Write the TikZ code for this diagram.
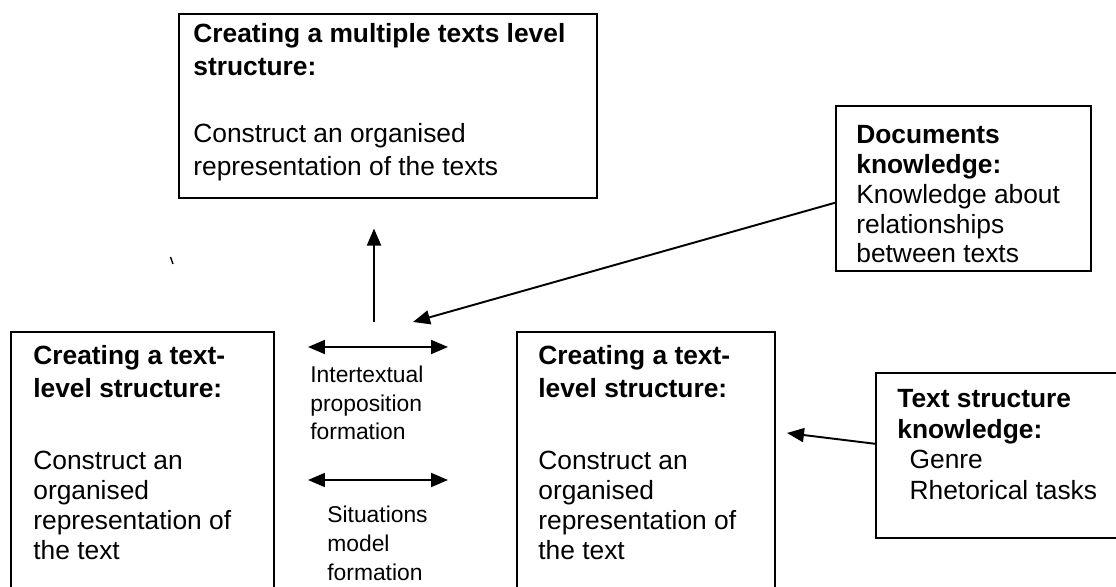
\documentclass[tikz,border=0pt]{standalone}
\usepackage{fontspec}
\setmainfont{Liberation Sans}
\usetikzlibrary{arrows.meta}
\begin{document}
\begin{tikzpicture}[x=0.02cm,y=-0.02cm,
    box/.style={draw,line width=0.9pt,anchor=north west,inner sep=0pt},
    txt/.style={anchor=north west,inner sep=0pt,align=left,font=\fontsize{15}{17}\selectfont},
    small/.style={anchor=north west,inner sep=0pt,align=left,font=\fontsize{13}{16.2}\selectfont},
    arr/.style={line width=1.1pt,-{Triangle[length=0.34cm,width=0.28cm]}},
    dbl/.style={line width=1.1pt,{Triangle[length=0.34cm,width=0.28cm]}-{Triangle[length=0.34cm,width=0.28cm]}}]
  \useasboundingbox (0,0) rectangle (1116,587);
  \clip (0,0) rectangle (1116,587);
  \node[box,minimum width=8.36cm,minimum height=3.68cm] (multi) at (178,13) {};
  \node[box,minimum width=5.1cm,minimum height=3.3cm] (docs) at (835,105) {};
  \node[box,minimum width=5.26cm,minimum height=6cm] (leftbox) at (10,331) {};
  \node[box,minimum width=5.16cm,minimum height=6cm] (midbox) at (516,331) {};
  \node[box,minimum width=5.2cm,minimum height=3.3cm] (tsbox) at (875,372) {};
  \node[txt,font=\fontsize{15}{19}\selectfont] (multitext) at (193,23)
    {\textbf{Creating a multiple texts level}\\\textbf{structure:}\\[19pt]Construct an organised\\representation of the texts};
  \node[txt] (docstext) at (856,125)
    {\textbf{Documents}\\\textbf{knowledge:}\\Knowledge about\\relationships\\between texts};
  \node[txt] (lefttext) at (33,345)
    {\textbf{Creating a text-}\\[2pt]\textbf{level structure:}\\[24pt]Construct an\\organised\\representation of\\the text};
  \node[txt] (midtext) at (538,345)
    {\textbf{Creating a text-}\\[2pt]\textbf{level structure:}\\[24pt]Construct an\\organised\\representation of\\the text};
  \node[txt,font=\fontsize{15}{17.4}\selectfont] (tstext) at (897,389)
    {\textbf{Text structure}\\\textbf{knowledge:}\\\hspace*{7pt}Genre\\\hspace*{7pt}Rhetorical tasks};
  \node[small] (intertext) at (310,366) {Intertextual\\proposition\\formation};
  \node[small,font=\fontsize{13}{16.5}\selectfont] (sittext) at (327,506) {Situations\\model\\formation};
  \coordinate (upfoot) at (374,322);
  \coordinate (docstip) at (413,322);
  \coordinate (tstip) at (787,433);
  \draw[arr,shorten >=0.6cm] (upfoot) -- (upfoot |- multi.south);
  \draw[arr] ([yshift=-0.29cm]docs.west) -- (docstip);
  \draw[arr] ([yshift=0.23cm]tsbox.west) -- (tstip);
  \foreach \n/\y in {ia/347,sa/480} {
    \coordinate (\n l) at (308,\y);
    \coordinate (\n r) at (448,\y);
    \draw[dbl] (\n l) -- (\n r);
  }
  \draw[line width=0.8pt] (170.5,257) -- (173,264);
\end{tikzpicture}
\end{document}
